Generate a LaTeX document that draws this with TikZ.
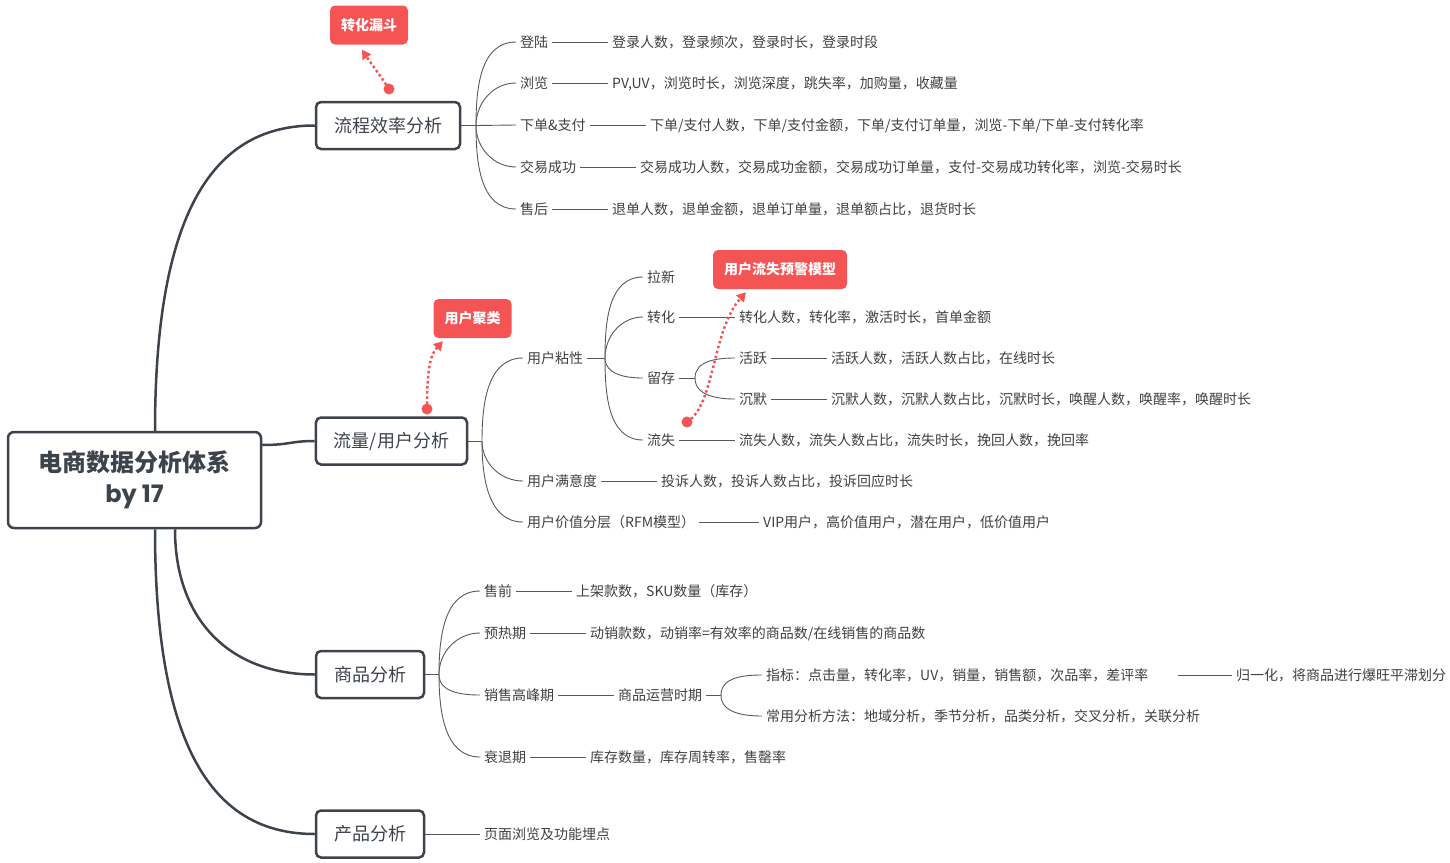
\documentclass[tikz,border=0pt]{standalone}
\usepackage{fontspec}
\usetikzlibrary{arrows.meta,calc}
\newfontfamily\cjk{Noto Sans CJK SC}
\newfontfamily\pop{Poppins}
\definecolor{dark}{HTML}{3D434B}
\definecolor{txt}{HTML}{404040}
\definecolor{ln}{HTML}{555A61}
\definecolor{callred}{HTML}{F55454}
\begin{document}
\begin{tikzpicture}[x=1pt,y=-1pt,
  rootbox/.style={draw=dark, line width=2.5pt, rounded corners=6pt, fill=white,
    minimum width=253pt, minimum height=96pt, align=center, text=dark,
    font=\cjk\bfseries\fontsize{24}{31}\selectfont},
  topic/.style={draw=dark, line width=2.5pt, rounded corners=5pt, fill=white,
    minimum height=47pt, inner xsep=18pt, text=dark,
    font=\cjk\fontsize{18}{20}\selectfont},
  lbl/.style={anchor=west, inner xsep=4pt, inner ysep=2pt, text height=11pt, text depth=1pt,
    text=txt, font=\cjk\fontsize{14}{16}\selectfont},
  det/.style={lbl},
  trunk/.style={draw=dark, line width=2.5pt},
  br/.style={draw=ln, line width=0.9pt},
  call/.style={fill=callred, rounded corners=5pt, text=white, minimum height=39pt,
    inner xsep=11pt, font=\cjk\bfseries\fontsize{14}{16}\selectfont},
  dotarrow/.style={draw=callred, line width=2.5pt, dash pattern=on 2.5pt off 2.6pt,
    -{Triangle[length=9pt,width=10pt]}},
]
\useasboundingbox (0,0) rectangle (1450,862);

% ---------- main nodes ----------
\node[rootbox] (root) at (134.5,480) {电商数据分析体系\\{\pop\bfseries by 17}};
\node[topic] (t1) at (388,125.5) {流程效率分析};
\node[topic] (t2) at (391.5,441) {流量/用户分析};
\node[topic] (t3) at (370,674.5) {商品分析};
\node[topic] (t4) at (370,834) {产品分析};

\draw[trunk] ([xshift=20.5pt]root.north) .. controls (155,200) and (220,125.5) .. (t1.west);
\draw[trunk] ([yshift=35pt]root.east) .. controls (290,445) and (290,441) .. (t2.west);
\draw[trunk] ([xshift=40.5pt]root.south) .. controls (175,620) and (230,674.5) .. (t3.west);
\draw[trunk] ([xshift=20.5pt]root.south) .. controls (155,760) and (220,834) .. (t4.west);

% ---------- section 1 ----------
\coordinate (j1) at (476,125.5);
\node[lbl] (a1) at (516,42) {登陆};
\node[lbl] (a2) at (516,83) {浏览};
\node[lbl] (a3) at (516,125) {下单\&支付};
\node[lbl] (a4) at (516,167) {交易成功};
\node[lbl] (a5) at (516,209) {售后};
\node[det] (a1d) at (608,42) {登录人数，登录频次，登录时长，登录时段};
\node[det] (a2d) at (608,83) {PV,UV，浏览时长，浏览深度，跳失率，加购量，收藏量};
\node[det] (a3d) at (646,125) {下单/支付人数，下单/支付金额，下单/支付订单量，浏览-下单/下单-支付转化率};
\node[det] (a4d) at (636,167) {交易成功人数，交易成功金额，交易成功订单量，支付-交易成功转化率，浏览-交易时长};
\node[det] (a5d) at (608,209) {退单人数，退单金额，退单订单量，退单额占比，退货时长};
\draw[br] (t1.east) -- (j1);
\draw[br] (j1) to[out=90,in=180] (a1.west);
\draw[br] (j1) to[out=90,in=180] (a2.west);
\draw[br] (j1) -- (a3.west);
\draw[br] (j1) to[out=-90,in=180] (a4.west);
\draw[br] (j1) to[out=-90,in=180] (a5.west);
\foreach \n in {a1,a2,a3,a4,a5} \draw[br] (\n.east) -- (\n d.west);

% ---------- section 2 ----------
\coordinate (j2) at (482,441);
\node[lbl] (b1) at (523,358) {用户粘性};
\node[lbl] (b2) at (523,481) {用户满意度};
\node[lbl] (b3) at (523,522) {用户价值分层（RFM模型）};
\node[det] (b2d) at (657,481) {投诉人数，投诉人数占比，投诉回应时长};
\node[det] (b3d) at (759,522) {VIP用户，高价值用户，潜在用户，低价值用户};
\draw[br] (t2.east) -- (j2);
\draw[br] (j2) to[out=90,in=180] (b1.west);
\draw[br] (j2) to[out=-90,in=180] (b2.west);
\draw[br] (j2) to[out=-90,in=180] (b3.west);
\draw[br] (b2.east) -- (b2d.west);
\draw[br] (b3.east) -- (b3d.west);

\coordinate (j21) at (605,358);
\node[lbl] (c1) at (643,277) {拉新};
\node[lbl] (c2) at (643,317) {转化};
\node[lbl] (c3) at (643,378) {留存};
\node[lbl] (c4) at (643,440) {流失};
\node[det] (c2d) at (735,317) {转化人数，转化率，激活时长，首单金额};
\node[det] (c4d) at (735,440) {流失人数，流失人数占比，流失时长，挽回人数，挽回率};
\draw[br] (b1.east) -- (j21);
\draw[br] (j21) to[out=90,in=180] (c1.west);
\draw[br] (j21) to[out=90,in=180] (c2.west);
\draw[br] (j21) to[out=-90,in=180] (c3.west);
\draw[br] (j21) to[out=-90,in=180] (c4.west);
\draw[br] (c2.east) -- (c2d.west);
\draw[br] (c4.east) -- (c4d.west);

\coordinate (j22) at (695,378);
\node[lbl] (d1) at (735,358) {活跃};
\node[lbl] (d2) at (735,399) {沉默};
\node[det] (d1d) at (827,358) {活跃人数，活跃人数占比，在线时长};
\node[det] (d2d) at (827,399) {沉默人数，沉默人数占比，沉默时长，唤醒人数，唤醒率，唤醒时长};
\draw[br] (c3.east) -- (j22);
\draw[br] (j22) to[out=90,in=180] (d1.west);
\draw[br] (j22) to[out=-90,in=180] (d2.west);
\draw[br] (d1.east) -- (d1d.west);
\draw[br] (d2.east) -- (d2d.west);

% ---------- section 3 ----------
\coordinate (j3) at (439,674.5);
\node[lbl] (e1) at (480,591) {售前};
\node[lbl] (e2) at (480,633) {预热期};
\node[lbl] (e3) at (480,695) {销售高峰期};
\node[lbl] (e4) at (480,757) {衰退期};
\node[det] (e1d) at (572,591) {上架款数，SKU数量（库存）};
\node[det] (e2d) at (586,633) {动销款数，动销率=有效率的商品数/在线销售的商品数};
\node[lbl] (e3d) at (614,695) {商品运营时期};
\node[det] (e4d) at (586,757) {库存数量，库存周转率，售罄率};
\draw[br] (t3.east) -- (j3);
\draw[br] (j3) to[out=90,in=180] (e1.west);
\draw[br] (j3) to[out=90,in=180] (e2.west);
\draw[br] (j3) to[out=-90,in=180] (e3.west);
\draw[br] (j3) to[out=-90,in=180] (e4.west);
\foreach \n in {e1,e2,e3,e4} \draw[br] (\n.east) -- (\n d.west);

\coordinate (j31) at (721,695);
\node[lbl] (f1) at (762,675) {指标：点击量，转化率，UV，销量，销售额，次品率，差评率};
\node[lbl] (f2) at (762,716) {常用分析方法：地域分析，季节分析，品类分析，交叉分析，关联分析};
\node[det] (f1d) at (1232,675) {归一化，将商品进行爆旺平滞划分};
\coordinate (f1e) at (1178,675);
\draw[br] (e3d.east) -- (j31);
\draw[br] (j31) to[out=90,in=180] (f1.west);
\draw[br] (j31) to[out=-90,in=180] (f2.west);
\draw[br] (f1e) -- (f1d.west);

% ---------- section 4 ----------
\node[det] (g1d) at (480,834) {页面浏览及功能埋点};
\draw[br] (t4.east) -- (g1d.west);

% ---------- callouts ----------
\node[call] (k1) at (369,25) {转化漏斗};
\node[call] (k2) at (472.5,318.5) {用户聚类};
\node[call] (k3) at (780,269.5) {用户流失预警模型};

\coordinate (p1) at (389,89);
\coordinate (p2) at (427,409);
\coordinate (p3) at (687,422);
\draw[dotarrow] (p1) .. controls (380,75) and (370,62) .. ([xshift=-7pt,yshift=-5pt]k1.south);
\draw[dotarrow] (p2) .. controls (427,370) and (430,355) .. ([xshift=-29.5pt,yshift=-3pt]k2.south);
\draw[dotarrow] (p3) .. controls (715,405) and (712,330) .. ([xshift=-34pt,yshift=-3pt]k3.south);
\fill[callred] (p1) circle (5.5pt);
\fill[callred] (p2) circle (5.5pt);
\fill[callred] (p3) circle (5.5pt);
\end{tikzpicture}
\end{document}
